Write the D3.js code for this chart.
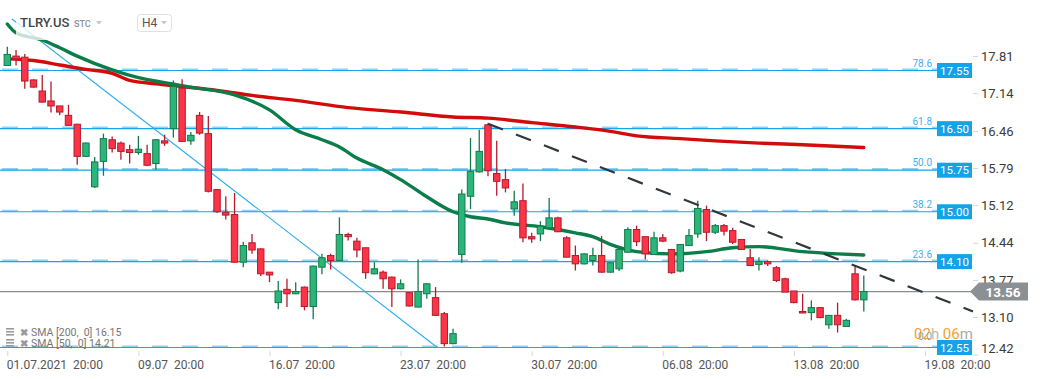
<!DOCTYPE html>
<html><head><meta charset="utf-8">
<script src="https://cdn.jsdelivr.net/npm/d3@7"></script>
<style>
html,body{margin:0;padding:0;background:#fff;}
svg{display:block;font-family:Roboto,"Open Sans",sans-serif;}
</style></head>
<body>
<svg id="c" width="1041" height="379"></svg>
<script>
// ---- data ----
const open  = [17.64,17.81,17.79,17.38,17.18,17.00,16.91,16.74,16.58,16.00,15.45,15.91,16.30,16.24,16.12,16.07,16.05,15.87,16.28,16.50,17.23,16.28,16.74,16.41,15.40,14.99,14.95,14.09,14.44,14.33,13.91,13.36,13.60,13.52,13.64,13.29,14.00,14.21,14.12,14.59,14.47,14.35,13.88,13.91,13.82,13.61,13.54,13.28,13.52,13.45,13.16,12.62,14.23,15.28,15.72,16.57,15.69,15.58,15.05,15.20,14.55,14.60,14.71,14.89,14.53,14.21,14.06,14.12,14.21,13.91,13.97,14.27,14.68,14.55,14.23,14.53,14.32,13.93,14.39,14.60,15.04,14.63,14.75,14.66,14.50,14.17,14.05,14.10,13.99,13.79,13.57,13.20,13.18,13.27,12.96,13.13,12.93,13.88,13.41];
const high  = [17.98,17.92,17.85,17.39,17.47,17.35,16.91,16.93,16.59,16.25,15.99,16.41,16.36,16.27,16.21,16.37,16.21,16.31,16.39,17.37,17.39,16.44,16.80,16.73,15.41,15.28,15.34,14.46,14.60,14.34,13.91,13.75,13.79,13.73,13.65,14.03,14.24,14.24,14.90,14.62,14.53,14.35,14.09,13.94,13.83,13.78,13.55,14.14,13.71,13.64,13.19,12.89,15.40,16.33,16.48,16.60,16.28,15.77,15.38,15.51,14.62,14.83,15.25,14.91,14.56,14.39,14.25,14.35,14.56,14.09,14.33,14.72,14.75,14.55,14.64,14.60,14.33,14.42,14.69,15.20,15.11,14.78,14.78,14.71,14.50,14.33,14.18,14.12,14.02,13.81,13.57,13.52,13.40,13.27,13.13,13.36,13.07,14.03,13.85];
const low   = [17.63,17.64,17.22,17.24,16.97,16.79,16.74,16.55,15.85,15.99,15.43,15.65,16.07,15.94,15.87,16.03,15.82,15.76,16.19,16.34,16.26,16.21,16.39,15.35,14.98,14.86,14.08,14.00,14.24,13.84,13.73,13.24,13.28,13.51,13.22,13.06,13.87,13.96,14.12,14.48,14.18,13.79,13.87,13.61,13.28,13.60,13.29,13.27,13.43,13.12,12.57,12.61,14.08,15.05,15.71,15.64,15.29,15.35,14.93,14.45,14.44,14.47,14.70,14.63,14.18,13.94,14.05,14.03,13.90,13.90,13.93,14.26,14.38,14.14,14.22,14.45,13.88,13.91,14.38,14.53,14.47,14.60,14.57,14.42,14.31,14.03,13.94,14.02,13.73,13.55,13.35,13.17,13.04,13.08,12.89,12.82,12.92,13.40,13.20];
const close = [17.84,17.76,17.36,17.25,16.98,16.91,16.80,16.56,16.00,16.24,15.90,16.32,16.14,16.09,16.07,16.13,15.84,16.30,16.24,17.26,16.27,16.38,16.42,15.37,15.00,14.94,14.09,14.39,14.31,13.88,13.86,13.57,13.52,13.56,13.29,14.02,14.17,14.12,14.59,14.55,14.31,13.90,13.97,13.79,13.61,13.70,13.30,13.56,13.70,13.13,12.62,12.80,15.32,15.73,16.09,15.74,15.55,15.43,15.18,14.53,14.51,14.74,14.89,14.64,14.18,14.06,14.24,14.21,13.91,14.08,14.32,14.68,14.46,14.24,14.53,14.47,13.90,14.41,14.57,15.06,14.63,14.75,14.65,14.45,14.32,14.03,14.10,14.06,13.76,13.55,13.36,13.18,13.27,13.09,13.13,12.96,13.04,13.41,13.56];

const sma200Idx = [0,3,6,9,12,14,17,20,24,28,33,39,45,51,55,60,65,69,72,77,81,86,91,98];
const sma200Val = [17.76,17.73,17.65,17.57,17.50,17.37,17.31,17.26,17.19,17.10,17.01,16.88,16.80,16.71,16.69,16.61,16.53,16.45,16.37,16.32,16.28,16.24,16.21,16.16];
const sma50Idx  = [0,1,4,6,8,12,15,18,21,26,30,33,36,38,40,43,45,48,51,53,55,57,61,65,67,69,72,76,80,83,86,91,95,98];
const sma50Val  = [18.39,18.23,18.10,17.96,17.81,17.56,17.42,17.33,17.25,17.11,16.84,16.48,16.30,16.17,15.97,15.76,15.58,15.27,15.00,14.91,14.87,14.80,14.73,14.62,14.55,14.41,14.28,14.24,14.28,14.35,14.37,14.28,14.24,14.22];

const fibRatios = ["0.0","23.6","38.2","50.0","61.8","78.6"];
const fibPrices = [12.55,14.10,15.00,15.75,16.50,17.55];
const yTicks = [17.81,17.14,16.46,15.79,15.12,14.44,13.77,13.10,12.42];
const xLabelIdx = [0,15,30,45,60,75,90,105];
const xLabels = ["01.07.2021  20:00","09.07  20:00","16.07  20:00","23.07  20:00","30.07  20:00","06.08  20:00","13.08  20:00","19.08  20:00"];
const lastPrice = 13.56;
const fallLine = [[0.54,18.48],[49.2,12.55]];      // blue trend line
const resistLine = [[55.0,16.59],[110.5,13.20]];   // dashed trend line
const legendItems = ["SMA [200,  0] 16.15","SMA [50,  0] 14.21"];

// ---- scales ----
const W = 1041, H = 379;
const x = d3.scaleLinear().domain([0, 98]).range([7.3, 863.8]);
const y = d3.scaleLinear().domain([12.55, 17.55]).range([347.5, 70.5]);
const svg = d3.select("#c");

svg.append("defs").append("clipPath").attr("id","plot")
  .append("rect").attr("x",0).attr("y",0).attr("width",975).attr("height",350);
const plot = svg.append("g").attr("clip-path","url(#plot)");

// fib lines
const fib = plot.append("g");
fibPrices.forEach((p,i)=>{
  fib.append("line").attr("x1",0).attr("x2",937).attr("y1",y(p)).attr("y2",y(p))
    .attr("stroke","#8fd2f6").attr("stroke-width",2.2).attr("stroke-dasharray","16,14")
    .attr("stroke-dashoffset",-2).attr("transform","translate(0,-1)");
  fib.append("line").attr("x1",0).attr("x2",937).attr("y1",y(p)).attr("y2",y(p))
    .attr("stroke","#14a5ea").attr("stroke-width",1.2);
});

// current price line
plot.append("line").attr("x1",0).attr("x2",972).attr("y1",y(lastPrice)).attr("y2",y(lastPrice))
  .attr("stroke","#8c8c8c").attr("stroke-width",1.2);

// blue falling trend line
plot.append("line")
  .attr("x1",x(fallLine[0][0])).attr("y1",y(fallLine[0][1]))
  .attr("x2",x(fallLine[1][0])).attr("y2",y(fallLine[1][1]))
  .attr("stroke","#2eaef0").attr("stroke-width",1.1);

// SMAs
const lineGen = d3.line().x(d=>x(d[0])).y(d=>y(d[1])).curve(d3.curveMonotoneX);
plot.append("path").datum(sma200Idx.map((d,i)=>[d,sma200Val[i]]))
  .attr("d",lineGen).attr("fill","none").attr("stroke","#d40b0b").attr("stroke-width",3.4)
  .attr("stroke-linecap","round");
plot.append("path").datum(sma50Idx.map((d,i)=>[d,sma50Val[i]]))
  .attr("d",lineGen).attr("fill","none").attr("stroke","#0b7d49").attr("stroke-width",3.4)
  .attr("stroke-linecap","round");

// candles
const candles = open.map((o,i)=>({i,o,h:high[i],l:low[i],c:close[i]}));
const cg = plot.append("g").selectAll("g").data(candles).join("g");
const up = d=>d.c>=d.o;
cg.append("line").attr("x1",d=>x(d.i)).attr("x2",d=>x(d.i))
  .attr("y1",d=>y(d.h)).attr("y2",d=>y(d.l))
  .attr("stroke",d=>up(d)?"#137a4b":"#b31b2c").attr("stroke-width",1.3);
cg.append("rect").attr("x",d=>x(d.i)-3.2).attr("width",6.4)
  .attr("y",d=>y(Math.max(d.o,d.c)))
  .attr("height",d=>Math.max(1.5,Math.abs(y(d.o)-y(d.c))))
  .attr("fill",d=>up(d)?"#2bb57a":"#fb3448")
  .attr("stroke",d=>up(d)?"#137a4b":"#b31b2c").attr("stroke-width",1);

// dashed resistance line
plot.append("line")
  .attr("x1",x(resistLine[0][0])).attr("y1",y(resistLine[0][1]))
  .attr("x2",x(resistLine[1][0])).attr("y2",y(resistLine[1][1]))
  .attr("stroke","#30373d").attr("stroke-width",2.2).attr("stroke-dasharray","16,14");

// fib labels
fibPrices.forEach((p,i)=>{
  svg.append("text").attr("x",932).attr("y",y(p)-(i===0?8:4)).attr("text-anchor","end")
    .attr("font-size",10).attr("fill","#3db2ee").text(fibRatios[i]);
  svg.append("rect").attr("x",937).attr("y",y(p)-7.5).attr("width",35).attr("height",15)
    .attr("fill","#12a3e8");
  svg.append("text").attr("x",954.5).attr("y",y(p)+4).attr("text-anchor","middle")
    .attr("font-size",11.5).attr("fill","#fff").text(p.toFixed(2));
});

// right axis
const ra = svg.append("g").attr("transform","translate(973,0)")
  .call(d3.axisRight(y).tickValues(yTicks).tickSize(5).tickPadding(3).tickFormat(d3.format(".2f")));
ra.select(".domain").remove();
ra.selectAll(".tick line").attr("stroke","#d5d5d5");
ra.selectAll(".tick text").attr("font-size",13).attr("fill","#3a3a3a")
  .attr("font-family","Roboto,sans-serif")
  .attr("y",d=>Math.min(0, 348 - y(d)));

// current price tag
const py = y(lastPrice);
svg.append("path")
  .attr("d",`M970,${py} L979,${py-9} L1028,${py-9} L1028,${py+9} L979,${py+9} Z`)
  .attr("fill","#8b9094");
svg.append("text").attr("x",1003).attr("y",py+5).attr("text-anchor","middle")
  .attr("font-size",13.5).attr("font-weight","bold").attr("fill","#fff").text(lastPrice.toFixed(2));

// countdown
const cd = svg.append("text").attr("x",914).attr("y",339).attr("font-size",15);
cd.append("tspan").attr("fill","#f5a031").text("02");
cd.append("tspan").attr("fill","#c8b8a0").text("h ");
cd.append("tspan").attr("fill","#f5a031").text("06");
cd.append("tspan").attr("fill","#aaaaaa").text("m");

// bottom axis
const xa = svg.append("g").attr("transform","translate(0,351)")
  .call(d3.axisBottom(x).tickValues(xLabelIdx).tickSize(5).tickPadding(4)
    .tickFormat((d,i)=>xLabels[i]));
xa.select(".domain").remove();
xa.selectAll(".tick line").attr("stroke","#d8d8d8");
xa.selectAll(".tick text").attr("text-anchor","start").attr("x",-1)
  .attr("font-size",12).attr("fill","#555").attr("font-family","Roboto,sans-serif")
  .style("white-space","pre");

// header overlay
svg.append("rect").attr("x",16).attr("y",8).attr("width",170).attr("height",32)
  .attr("fill","#fff").attr("opacity",0.78);
svg.append("text").attr("x",20).attr("y",27).attr("font-size",13).attr("font-weight",500)
  .attr("fill","#40464c").text("TLRY.US");
svg.append("text").attr("x",74).attr("y",27).attr("font-size",9).attr("font-weight",500)
  .attr("fill","#8a9198").text("STC");
svg.append("path").attr("d","M96,21 L102,21 L99,24.5 Z").attr("fill","#c4c8cc");
svg.append("rect").attr("x",137.5).attr("y",14.5).attr("width",34).attr("height",17).attr("rx",3)
  .attr("fill","#fff").attr("stroke","#e0e0e0");
svg.append("text").attr("x",142).attr("y",27).attr("font-size",12).attr("fill","#555").text("H4");
svg.append("path").attr("d","M161,21 L167,21 L164,24.5 Z").attr("fill","#c4c8cc");

// SMA legend
legendItems.forEach((t,i)=>{
  const ly = 336 + i*11;
  const g = svg.append("g").attr("fill","#9a9a9a");
  g.append("rect").attr("x",6).attr("y",ly-8).attr("width",8).attr("height",1.6);
  g.append("rect").attr("x",6).attr("y",ly-5).attr("width",8).attr("height",1.6);
  g.append("rect").attr("x",6).attr("y",ly-2).attr("width",8).attr("height",1.6);
  g.append("text").attr("x",20).attr("y",ly).attr("font-size",10).attr("font-weight","bold").text("✖");
  svg.append("text").attr("x",31).attr("y",ly).attr("font-size",10.5).attr("fill","#777")
    .style("white-space","pre").text(t);
});
</script>
</body></html>
